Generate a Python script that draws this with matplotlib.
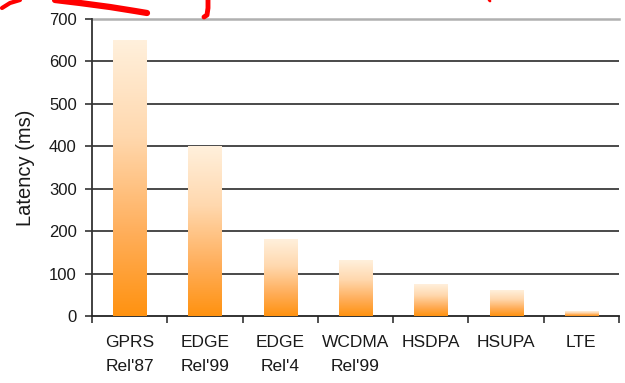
import numpy as np
import matplotlib
matplotlib.use('Agg')
import matplotlib.pyplot as plt
from matplotlib.colors import LinearSegmentedColormap
from matplotlib.lines import Line2D

# Data
technologies = ['GPRS\nRel\'87', 'EDGE\nRel\'99', 'EDGE\nRel\'4', 'WCDMA\nRel\'99', 'HSDPA', 'HSUPA', 'LTE']
latency_ms = [650, 400, 180, 130, 75, 60, 10]
y_ticks = [0, 100, 200, 300, 400, 500, 600, 700]

plt.rcParams['font.family'] = ['Liberation Sans', 'DejaVu Sans']

# Orange gradient, deep at the bottom, pale at the top
cmap = LinearSegmentedColormap.from_list(
    'orange_fade',
    [(0.0, '#ff9210'), (0.3, '#ffae5a'), (0.65, '#ffd8ae'), (1.0, '#fff0dc')])
gradient = np.linspace(0, 1, 256).reshape(-1, 1)

fig = plt.figure(figsize=(6.25, 3.83), dpi=100)
ax = fig.add_axes([92 / 625, 1 - 316 / 383, 527 / 625, 297 / 383])

x = np.arange(len(technologies))
bar_width = 0.44
bars = ax.bar(x, latency_ms, width=bar_width, color='none', zorder=3)
for bar in bars:
    bx, bw, bh = bar.get_x(), bar.get_width(), bar.get_height()
    ax.imshow(gradient, cmap=cmap, origin='lower', aspect='auto',
              extent=[bx, bx + bw, 0, bh], zorder=3, interpolation='bilinear')

ax.set_xlim(-0.5, len(technologies) - 0.5)
ax.set_ylim(0, 700)

# gridlines
for v in y_ticks[1:-1]:
    ax.axhline(v, color='#4a4a4a', lw=1.4, zorder=1)
ax.axhline(700, color='#b0b0b0', lw=1.8, zorder=1, clip_on=False)

ax.set_yticks(y_ticks)
ax.tick_params(axis='y', direction='out', length=5, width=1.2, color='#333333',
               labelsize=12, labelcolor='#1a1a1a', pad=6)

# labels at the bar centres, tick marks on the category borders
ax.set_xticks(x)
ax.set_xticklabels(technologies, fontsize=12.5, color='#1a1a1a', linespacing=1.75)
ax.tick_params(axis='x', length=0, pad=14)
ax.set_xticks(np.arange(len(technologies) + 1) - 0.5, minor=True)
ax.tick_params(axis='x', which='minor', direction='out', length=5, width=1.2, color='#333333')

ax.spines['top'].set_visible(False)
ax.spines['right'].set_visible(False)
ax.spines['left'].set_color('#333333')
ax.spines['left'].set_linewidth(1.3)
ax.spines['bottom'].set_color('#222222')
ax.spines['bottom'].set_linewidth(1.3)

ax.set_ylabel('Latency (ms)', fontsize=14.5, color='#1a1a1a', labelpad=10)

# red marker scribbles over the top of the picture
W, H = 625, 383
def pen(xs, ys, lw):
    fig.add_artist(Line2D(np.array(xs) / W, 1 - np.array(ys) / H, color='#ff0000',
                          lw=lw, solid_capstyle='round', transform=fig.transFigure))

pen([2, 10, 20], [8, 3, 0], 3)
pen([55, 80, 110, 135, 147], [0, 3, 7, 11, 13], 4.5)
pen([208, 208, 207, 204], [0, 8, 15, 17], 3.5)
pen([489, 490], [0, 1], 2)

fig.savefig('out.png', dpi=100, facecolor='white')
